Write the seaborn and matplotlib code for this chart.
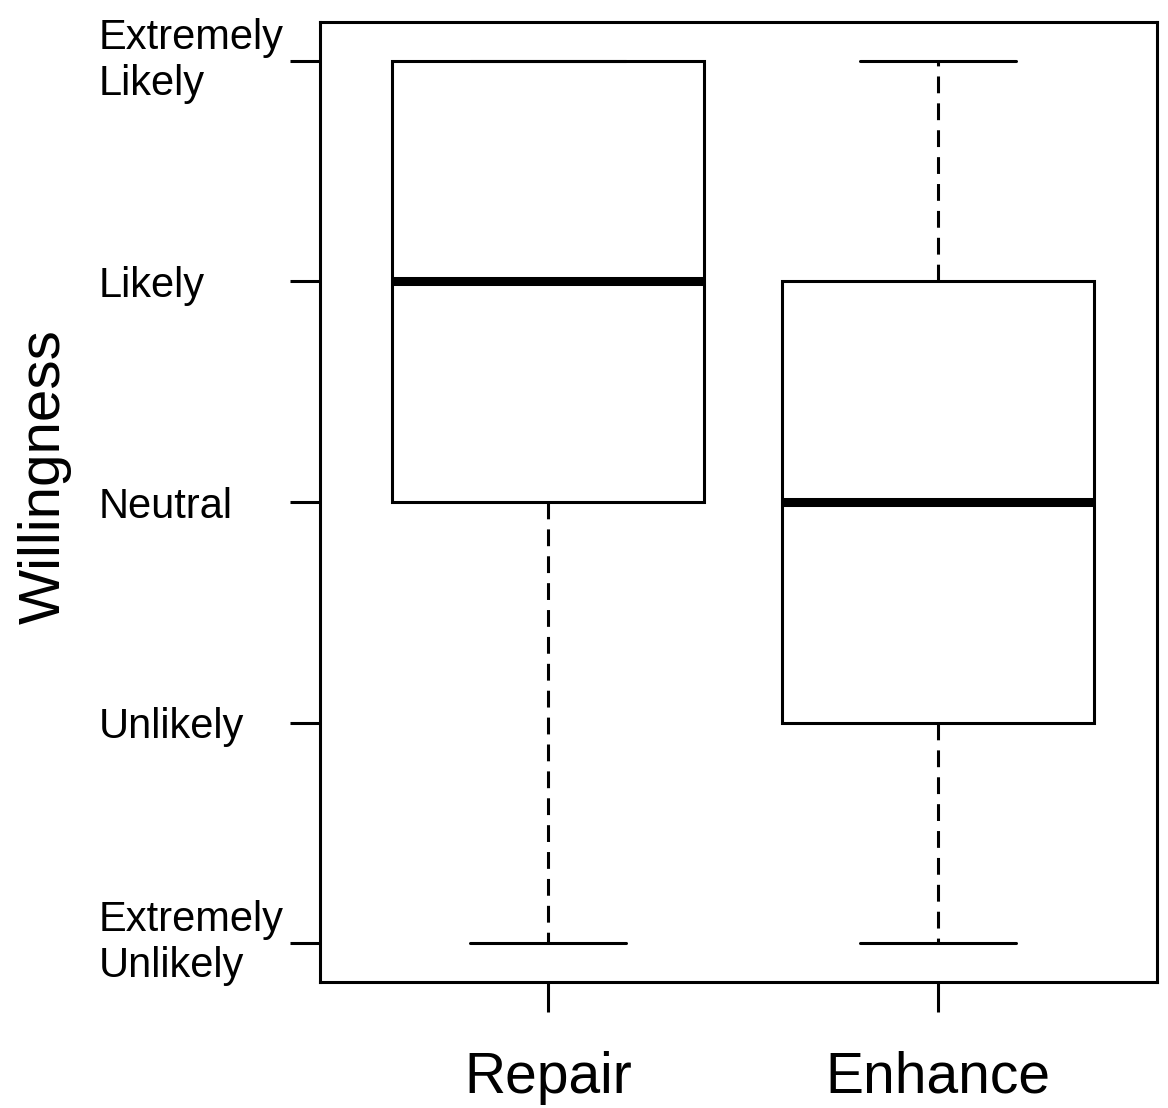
import matplotlib
matplotlib.use("Agg")
import matplotlib.pyplot as plt
import seaborn as sns
import pandas as pd

# ---- data (five-number responses per condition, 1 = Extremely Unlikely ... 5 = Extremely Likely)
conditions = ["Repair", "Enhance"]
repair_values = [1, 3, 4, 5, 5]
enhance_values = [1, 2, 3, 4, 5]
level_values = [1, 2, 3, 4, 5]
level_labels = ["Extremely\nUnlikely", "Unlikely", "Neutral", "Likely", "Extremely\nLikely"]
y_title = "Willingness"

df = pd.DataFrame({
    "condition": [conditions[0]] * len(repair_values) + [conditions[1]] * len(enhance_values),
    "value": repair_values + enhance_values,
})

sns.set_theme(style="white")
plt.rcParams["font.family"] = ["Liberation Sans", "DejaVu Sans"]

fig = plt.figure(figsize=(11.68, 11.08), dpi=100)
ax = fig.add_axes([320 / 1168, 1 - 982 / 1108, (1157 - 320) / 1168, (982 - 22) / 1108])

lw = 2.2
sns.boxplot(
    data=df, x="condition", y="value", order=conditions, ax=ax,
    color="white", linecolor="black", linewidth=lw, width=0.8, fill=True,
    whis=1.5,
    boxprops=dict(facecolor="white", edgecolor="black", linewidth=lw),
    medianprops=dict(color="black", linewidth=6.5, solid_capstyle="butt"),
    whiskerprops=dict(color="black", linewidth=lw, linestyle=(0, (5.5, 3.3))),
    capprops=dict(color="black", linewidth=lw),
    showfliers=False,
)

ax.set_xlim(0.415 - 1, 2.5615 - 1)
ax.set_ylim(1 - 39 / 220.5, 5 + 39 / 220.5)

ax.set_yticks(level_values)
ax.set_yticklabels(level_labels, fontsize=30, ha="left", multialignment="left", linespacing=1.22)
for lab in ax.get_yticklabels():
    if "\n" in lab.get_text():
        lab.set_va("center")
ax.tick_params(axis="y", length=21.6, width=lw, pad=138, color="black", left=True, labelcolor="black")
ax.tick_params(axis="x", length=21.6, width=lw, pad=28, color="black", bottom=True, labelsize=41, labelcolor="black")

for s in ax.spines.values():
    s.set_visible(True)
    s.set_color("black")
    s.set_linewidth(2.2)

ax.set_xlabel("")
ax.set_ylabel(y_title, fontsize=42, color="black")
ax.yaxis.set_label_coords((72 - 320) / 837, (982 - 477) / 960)

fig.savefig("out.png", dpi=100, facecolor="white")
